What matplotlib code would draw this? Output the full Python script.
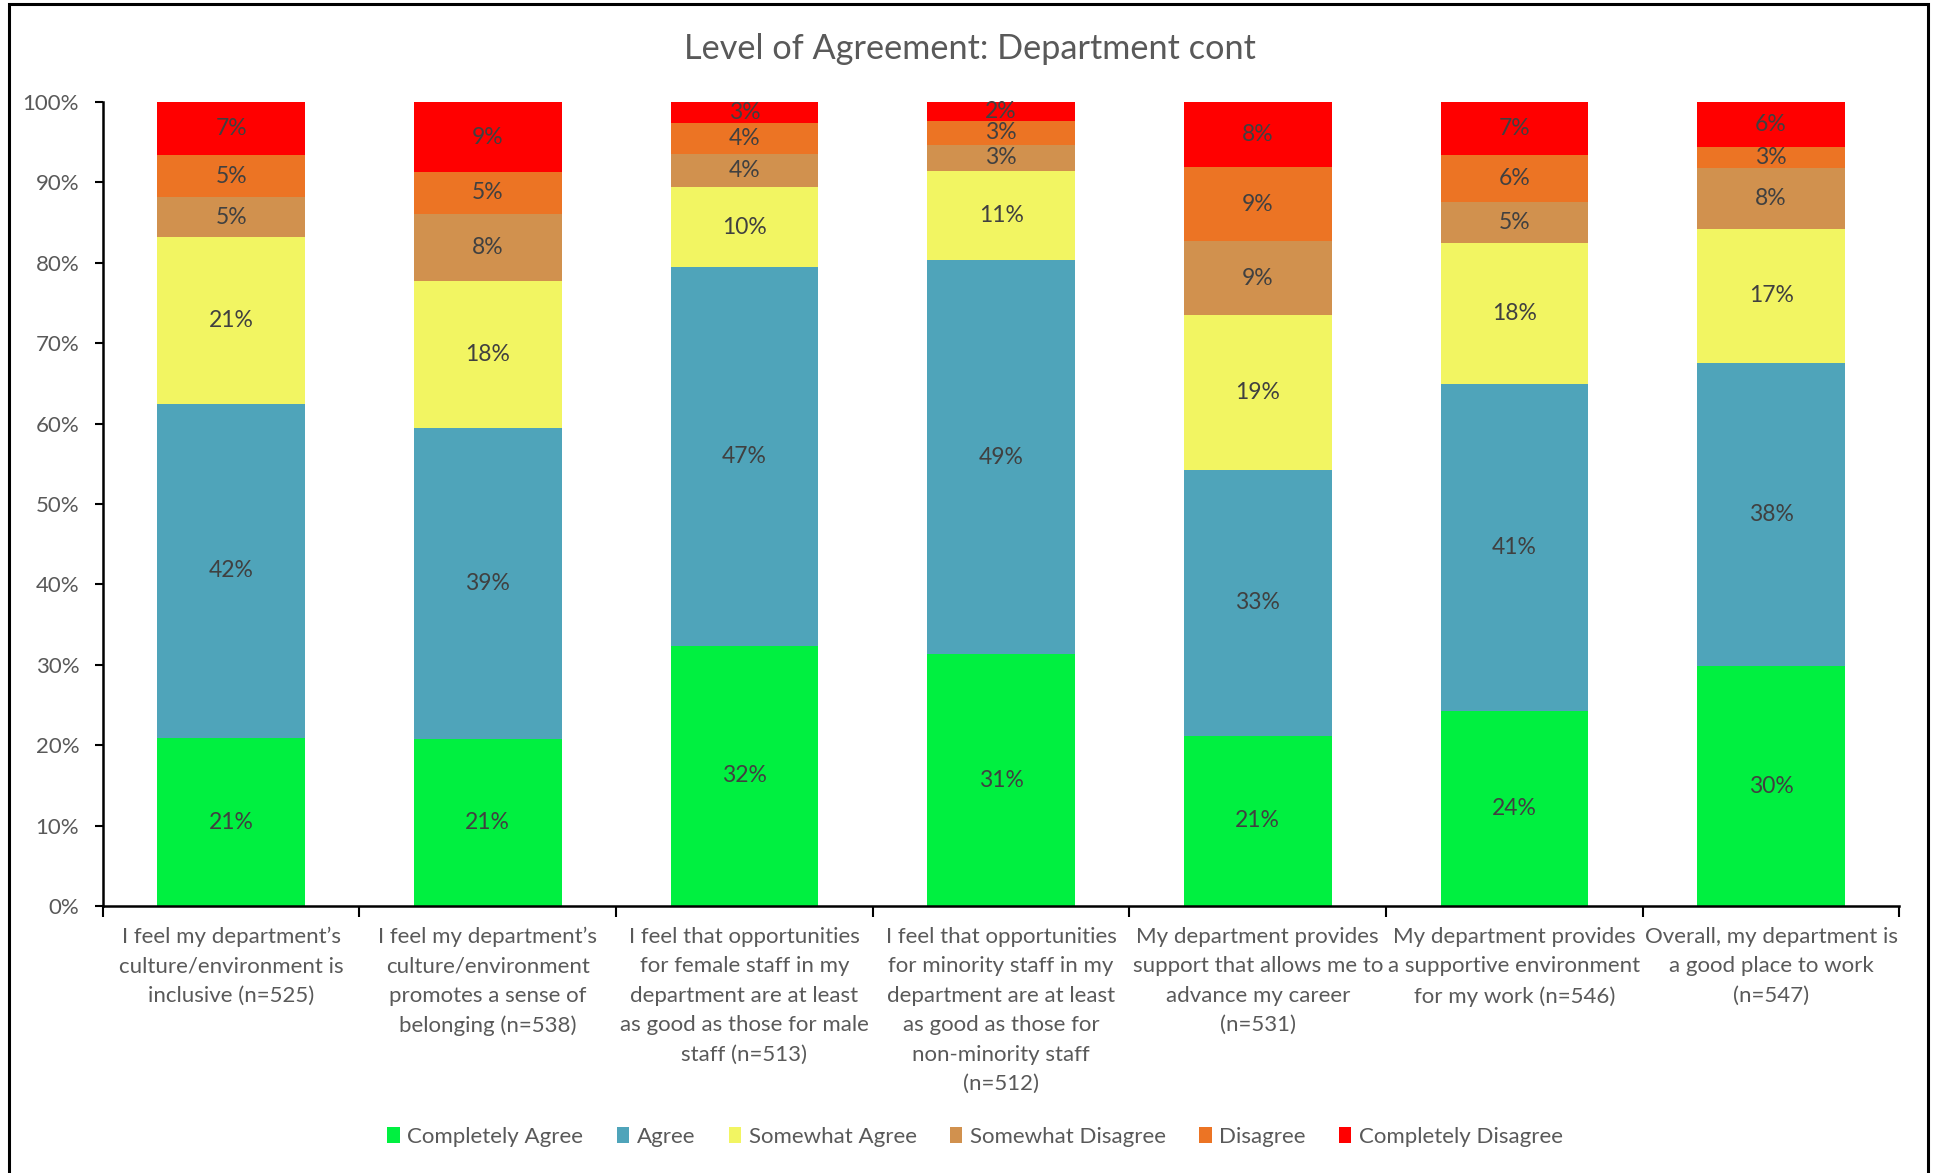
import matplotlib.pyplot as plt
from matplotlib.patches import Rectangle
from matplotlib.ticker import PercentFormatter, FixedLocator
import numpy as np

plt.rcParams['font.family'] = ['Lato', 'DejaVu Sans']

# questions (x axis)
questions = [
    "I feel my department\u2019s\nculture/environment is\ninclusive (n=525)",
    "I feel my department\u2019s\nculture/environment\npromotes a sense of\nbelonging (n=538)",
    "I feel that opportunities\nfor female staff in my\ndepartment are at least\nas good as those for male\nstaff (n=513)",
    "I feel that opportunities\nfor minority staff in my\ndepartment are at least\nas good as those for\nnon-minority staff\n(n=512)",
    "My department provides\nsupport that allows me to\nadvance my career\n(n=531)",
    "My department provides\na supportive environment\nfor my work (n=546)",
    "Overall, my department is\na good place to work\n(n=547)",
]

# percentages
completely_agree = [20.9, 20.8, 32.4, 31.3, 21.2, 24.3, 29.8]
agree = [41.6, 38.6, 47.1, 49.0, 33.0, 40.6, 37.8]
somewhat_agree = [20.7, 18.3, 9.9, 11.1, 19.3, 17.6, 16.6]
somewhat_disagree = [5.0, 8.4, 4.2, 3.3, 9.2, 5.1, 7.6]
disagree = [5.2, 5.2, 3.8, 3.0, 9.2, 5.8, 2.6]
completely_disagree = [6.6, 8.7, 2.6, 2.3, 8.1, 6.6, 5.6]

series = ["Completely Agree", "Agree", "Somewhat Agree",
          "Somewhat Disagree", "Disagree", "Completely Disagree"]
values = [completely_agree, agree, somewhat_agree,
          somewhat_disagree, disagree, completely_disagree]
colors = ["#00F040", "#4FA4BA", "#F2F562", "#D1914E", "#EC7424", "#FF0000"]

fig = plt.figure(figsize=(19.39, 11.73), dpi=100)
ax = fig.add_axes([0.053, 0.2276, 0.9266, 0.6854])

x = np.arange(len(questions))
bottom = np.zeros(len(questions))
for name, vals, col in zip(series, values, colors):
    vals = np.array(vals) / 100.0
    bars = ax.bar(x, vals, 0.575, bottom=bottom, color=col, label=name,
                  edgecolor='none')
    ax.bar_label(bars, labels=['%.0f%%' % (v * 100) for v in vals],
                 label_type='center', fontsize=16.5, color='#404040')
    bottom += vals

ax.set_xlim(-0.5, len(questions) - 0.5)
ax.set_ylim(0, 1)
ax.yaxis.set_major_locator(FixedLocator(np.arange(0, 1.01, 0.1)))
ax.yaxis.set_major_formatter(PercentFormatter(1.0, decimals=0))
ax.tick_params(axis='y', direction='out', length=6, width=1.5, pad=11,
               labelsize=16, labelcolor='#595959')

ax.set_xticks(x)
ax.set_xticklabels(questions, fontsize=16, color='#595959', linespacing=1.59,
                   va='top')
ax.set_xticks(np.arange(-0.5, len(questions)), minor=True)
ax.tick_params(axis='x', which='major', length=0, pad=15)
ax.tick_params(axis='x', which='minor', direction='out', length=8, width=1.5)

for s in ['top', 'right']:
    ax.spines[s].set_visible(False)
for s in ['left', 'bottom']:
    ax.spines[s].set_linewidth(1.8)

fig.text(0.5, 0.958, "Level of Agreement: Department cont", ha='center',
         va='center', fontsize=24.7, color='#595959')

fig.legend(loc='center', bbox_to_anchor=(0.503, 0.031), ncol=6,
           frameon=False, fontsize=16, handlelength=0.55, handleheight=0.75,
           handletextpad=0.35, columnspacing=1.5, labelcolor='#595959')

# outer chart border (bottom is cut off in the original)
fig.patches.append(Rectangle((9 / 1939, -0.02), 1919 / 1939, 1.0166,
                             transform=fig.transFigure, fill=False,
                             edgecolor='black', linewidth=2.2))

fig.savefig('out.png', dpi=100)
